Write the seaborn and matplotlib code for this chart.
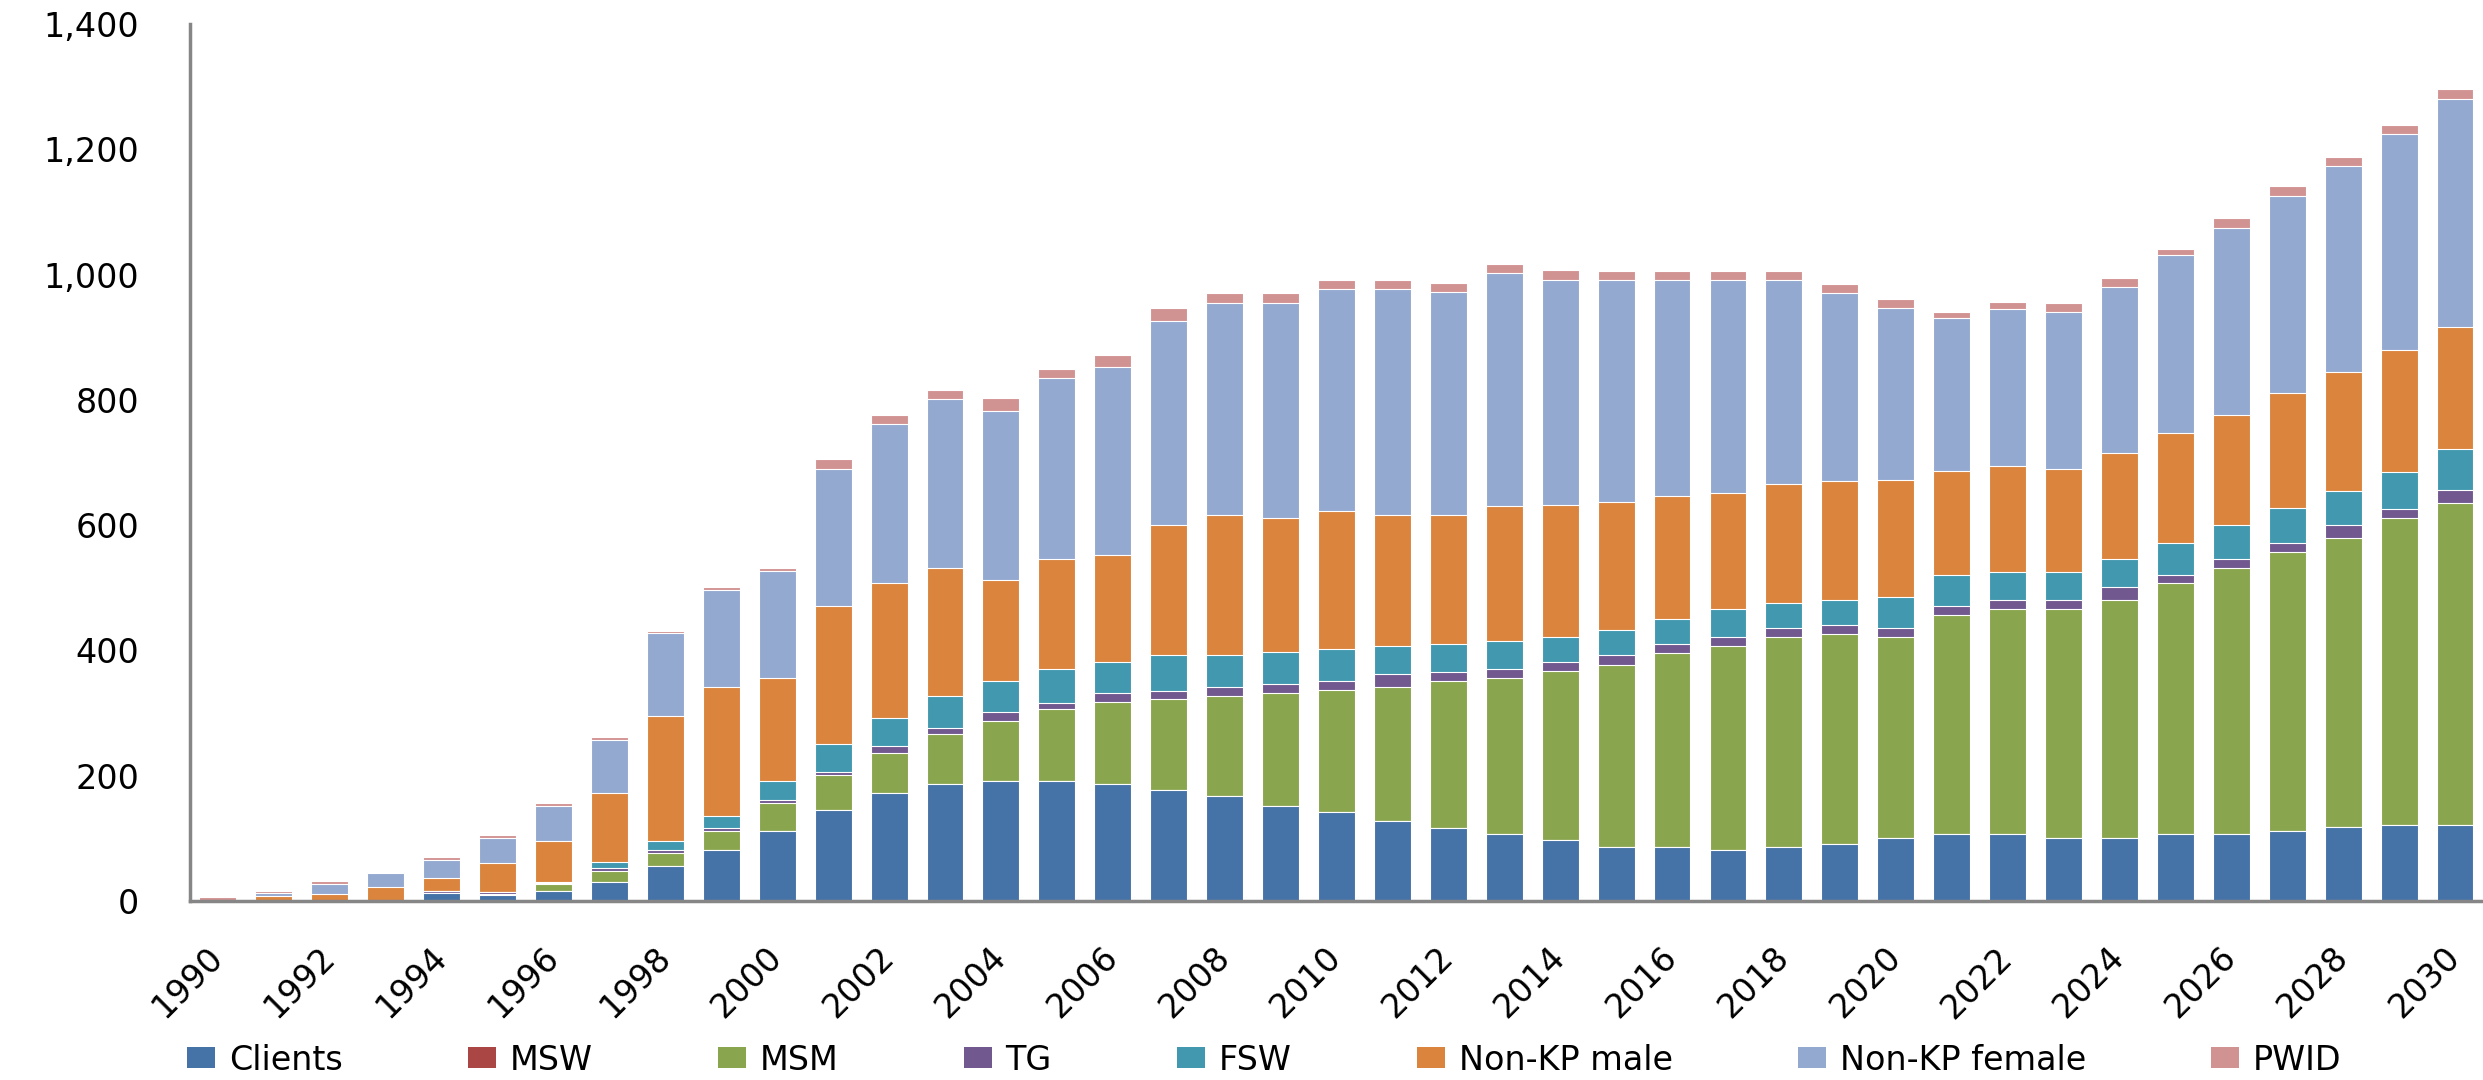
import numpy as np
import pandas as pd
import matplotlib
matplotlib.use("Agg")
import matplotlib.pyplot as plt
import seaborn as sns
from matplotlib.patches import Patch
from matplotlib.ticker import FuncFormatter

# Annual new infections by population group, 1990-2030
years = list(range(1990, 2031))

clients = [0, 0, 0, 0, 13, 9, 16, 31, 56, 81, 112, 146, 172, 187, 191, 191, 187, 177, 167, 152,
           142, 127, 117, 107, 97, 87, 87, 81, 87, 91, 101, 107, 107, 101, 101, 107, 107, 112, 118, 122, 122]
msw = [0] * 41
msm = [0, 0, 0, 0, 0, 3, 11, 17, 21, 31, 44, 55, 65, 79, 96, 115, 130, 145, 160, 180,
       195, 215, 235, 249, 271, 290, 309, 326, 334, 335, 320, 349, 359, 365, 380, 400, 424, 445, 462, 489, 514]
tg = [0, 0, 0, 0, 3, 3, 2, 4, 4, 4, 5, 5, 10, 11, 14, 10, 15, 14, 14, 14,
      15, 20, 14, 15, 14, 15, 14, 14, 15, 14, 15, 15, 15, 15, 20, 14, 15, 15, 20, 15, 20]
fsw = [0, 0, 0, 0, 0, 0, 2, 10, 15, 20, 31, 44, 45, 50, 51, 55, 50, 56, 51, 51,
       50, 45, 45, 44, 40, 40, 40, 45, 40, 41, 50, 50, 45, 45, 45, 51, 55, 55, 55, 59, 65]
nonkp_male = [0, 8, 11, 22, 20, 46, 65, 110, 199, 205, 164, 221, 216, 205, 160, 175, 170, 209, 224, 214,
              220, 210, 206, 216, 210, 205, 196, 185, 190, 190, 186, 165, 169, 164, 169, 175, 175, 184, 189, 195, 195]
nonkp_female = [0, 5, 16, 22, 30, 40, 56, 85, 133, 155, 171, 219, 254, 269, 271, 289, 300, 325, 339, 344,
                355, 360, 355, 371, 360, 354, 345, 340, 325, 299, 274, 245, 250, 250, 265, 284, 299, 315, 330, 345, 365]
pwid = [6, 3, 5, 3, 5, 5, 4, 5, 3, 5, 4, 16, 14, 15, 20, 15, 19, 20, 15, 15,
        14, 14, 14, 15, 15, 15, 15, 15, 15, 15, 15, 10, 11, 15, 15, 10, 15, 16, 14, 14, 15]

groups = ["Clients", "MSW", "MSM", "TG", "FSW", "Non-KP male", "Non-KP female", "PWID"]
colors = ["#4572A7", "#AA4643", "#89A54E", "#71588F", "#4198AF", "#DB843D", "#93A9CF", "#D19392"]

df = pd.DataFrame({
    "year": [str(y) for y in years],
    "Clients": clients,
    "MSW": msw,
    "MSM": msm,
    "TG": tg,
    "FSW": fsw,
    "Non-KP male": nonkp_male,
    "Non-KP female": nonkp_female,
    "PWID": pwid,
})

# cumulative tops for stacking: draw the tallest layer first
cum = df[groups].cumsum(axis=1)
for g in groups:
    df["top_" + g] = cum[g]

sns.set_style("white")
plt.rcParams["font.family"] = ["DejaVu Sans"]
plt.rcParams["text.color"] = "black"

fig = plt.figure(figsize=(24.83, 10.80), dpi=100)
ax = fig.add_axes([0.0765, 0.1657, 0.9235, 0.8120])

order = [str(y) for y in years]
for g, c in reversed(list(zip(groups, colors))):
    sns.barplot(data=df, x="year", y="top_" + g, order=order, color=c, saturation=1,
                width=0.66, edgecolor="white", linewidth=0.8, errorbar=None, ax=ax)

ax.set_xlim(-0.5, len(years) - 0.5)
ax.set_ylim(0, 1400)
ax.set_xlabel("")
ax.set_ylabel("")

axis_grey = "#868686"
for side in ["top", "right"]:
    ax.spines[side].set_visible(False)
for side in ["left", "bottom"]:
    ax.spines[side].set_color(axis_grey)
    ax.spines[side].set_linewidth(2.5)

ax.set_yticks(np.arange(0, 1401, 200))
ax.yaxis.set_major_formatter(FuncFormatter(lambda v, p: f"{v:,.0f}"))
ax.tick_params(axis="y", length=9.5, width=2.5, color=axis_grey, pad=27, labelsize=24,
               labelcolor="black")

# tick marks between every second category, labels on the even years
ax.set_xticks(np.arange(-0.5, len(years) - 1, 2), labels=[])
ax.set_xticks(np.arange(0, len(years), 2), labels=[str(y) for y in years[::2]], minor=True)
ax.tick_params(axis="x", which="major", length=9, width=2.5, color=axis_grey, direction="out")
ax.tick_params(axis="x", which="minor", length=0, pad=37, labelsize=24, labelcolor="black")
for lab in ax.get_xticklabels(minor=True):
    lab.set_rotation(45)
    lab.set_ha("right")
    lab.set_va("center")
    lab.set_rotation_mode("anchor")

handles = [Patch(facecolor=c, edgecolor="none", label=g) for g, c in zip(groups, colors)]
fig.legend(handles=handles, loc="center left", bbox_to_anchor=(187 / 2483, 1 - 1060 / 1080),
           ncol=8, frameon=False, fontsize=24, handlelength=0.84, handleheight=0.6,
           handletextpad=0.42, columnspacing=3.75, borderpad=0, borderaxespad=0,
           labelcolor="black")

fig.savefig("out.png", dpi=100)
